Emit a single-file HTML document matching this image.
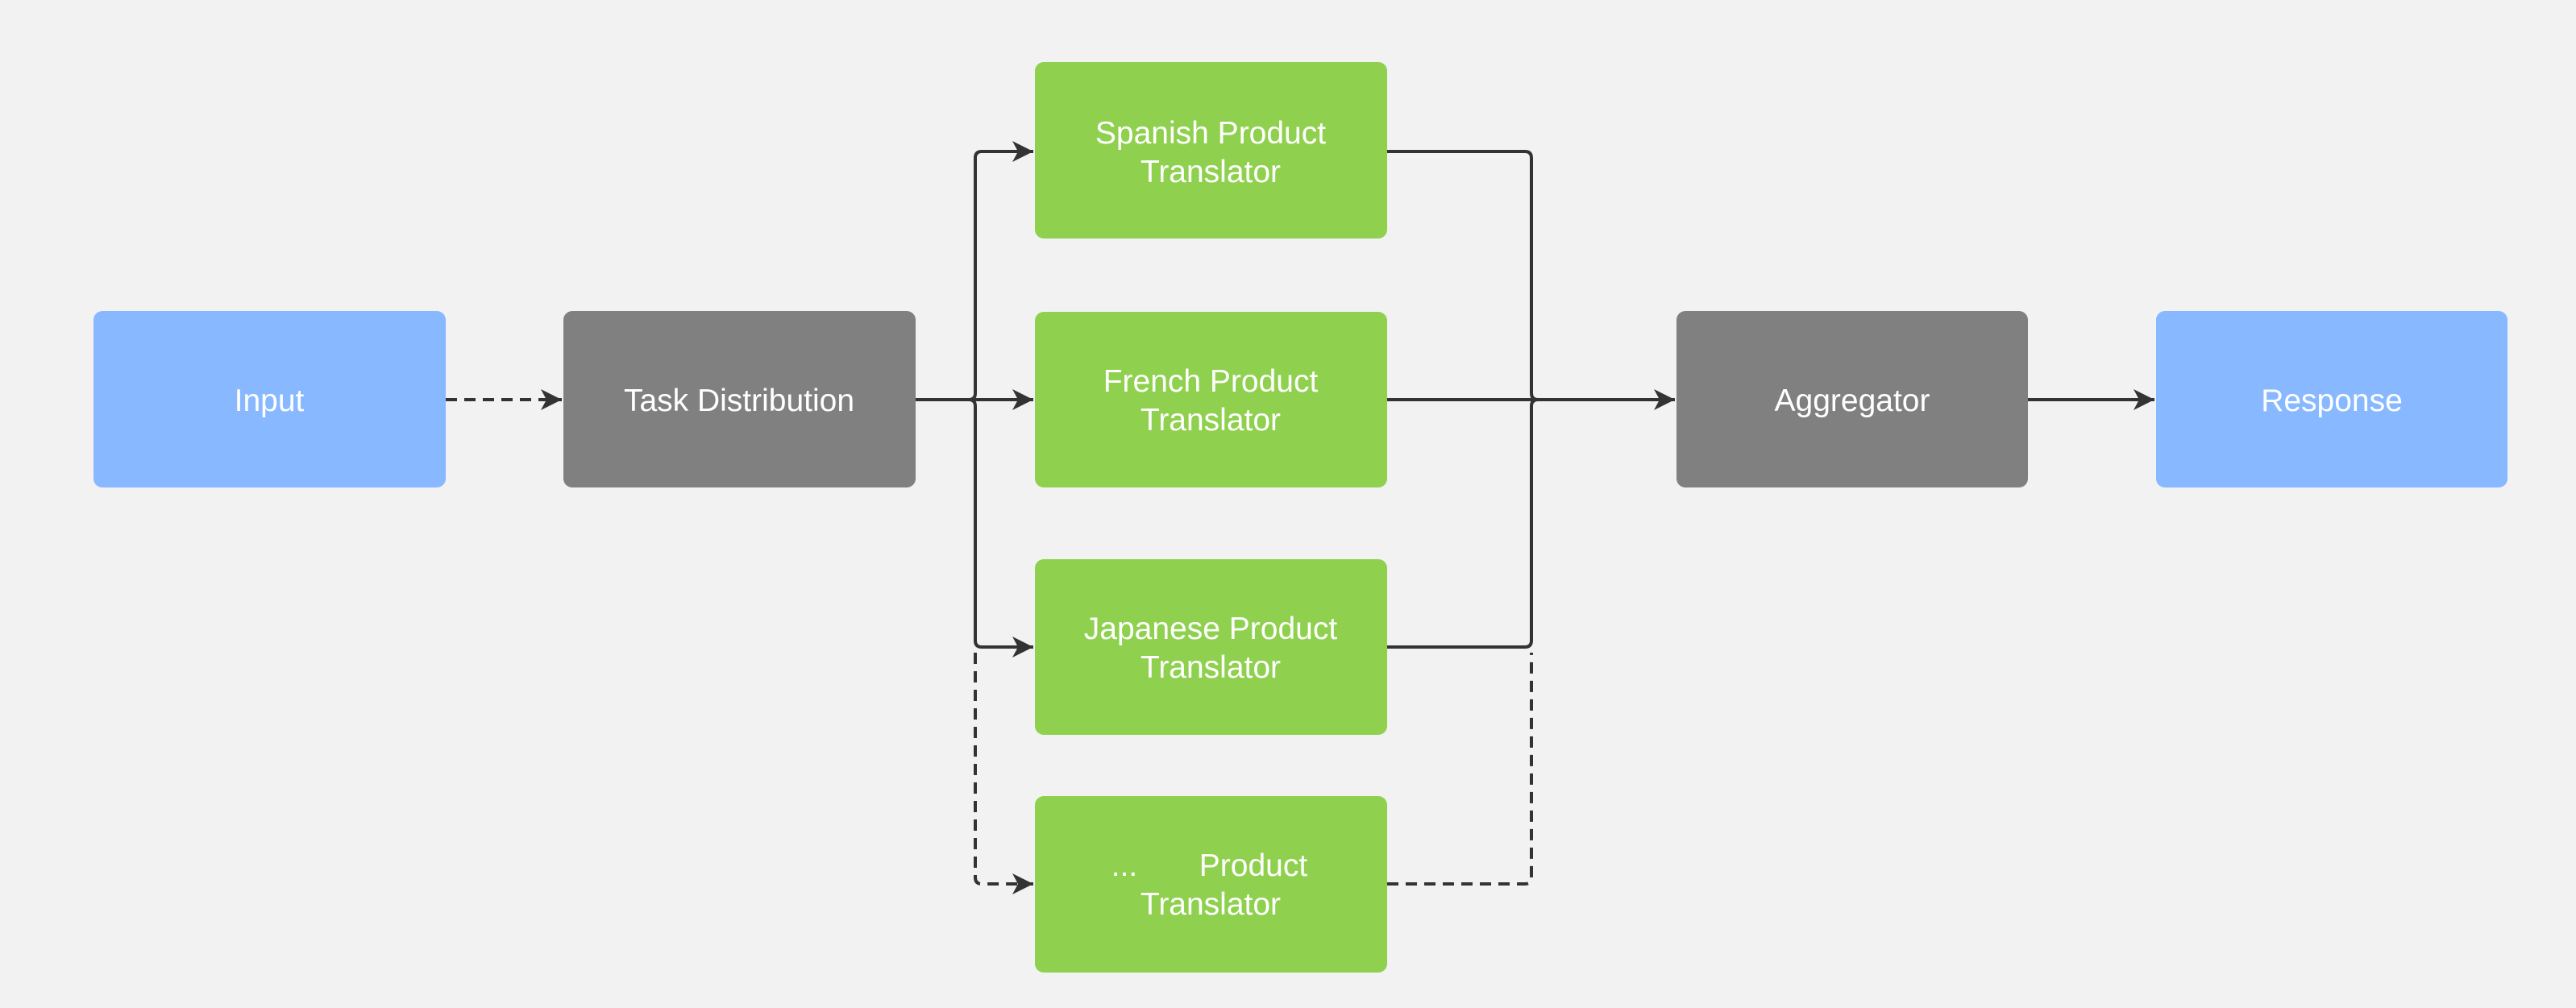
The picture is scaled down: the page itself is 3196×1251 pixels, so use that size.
<!DOCTYPE html>
<html><head><meta charset="utf-8"><style>
html,body{margin:0;padding:0;background:#f2f2f2;}
svg{display:block;}
text{font-family:"Liberation Sans",sans-serif;fill:#fff;font-size:39px;text-anchor:middle;}
</style></head><body>
<svg width="3196" height="1251" viewBox="0 0 3196 1251" xmlns="http://www.w3.org/2000/svg">
<defs>
<marker id="a" markerWidth="28" markerHeight="28" refX="26" refY="14" markerUnits="userSpaceOnUse" orient="auto">
<path d="M0,1 L26,14 L0,27 L7,14 Z" fill="#333"/>
</marker>
</defs>
<rect width="3196" height="1251" fill="#f2f2f2"/>
<g stroke="#333" stroke-width="4" fill="none">
<path d="M553,496 H697" stroke-dasharray="14,9" marker-end="url(#a)"/>
<path d="M1136,496 H1202 Q1210,496 1210,488 V196 Q1210,188 1218,188 H1282" marker-end="url(#a)"/>
<path d="M1202,496 Q1210,496 1210,504 V795 Q1210,803 1218,803 H1282" marker-end="url(#a)"/>
<path d="M1200,496 H1282" marker-end="url(#a)"/>
<path d="M1210,810 V1089 Q1210,1097 1218,1097 H1282" stroke-dasharray="14,9" marker-end="url(#a)"/>
<path d="M1721,188 H1892 Q1900,188 1900,196 V488 Q1900,496 1908,496"/>
<path d="M1721,803 H1892 Q1900,803 1900,795 V504 Q1900,496 1908,496"/>
<path d="M1721,496 H2078" marker-end="url(#a)"/>
<path d="M1721,1097 H1892 Q1900,1097 1900,1089 V810" stroke-dasharray="14,9"/>
<path d="M2516,496 H2673" marker-end="url(#a)"/>
</g>
<rect x="116" y="386" width="437" height="219" rx="11" fill="#88b8ff"/>
<rect x="699" y="386" width="437" height="219" rx="11" fill="#808080"/>
<rect x="1284" y="77" width="437" height="219" rx="11" fill="#8fd14f"/>
<rect x="1284" y="387" width="437" height="218" rx="11" fill="#8fd14f"/>
<rect x="1284" y="694" width="437" height="218" rx="11" fill="#8fd14f"/>
<rect x="1284" y="988" width="437" height="219" rx="11" fill="#8fd14f"/>
<rect x="2080" y="386" width="436" height="219" rx="11" fill="#808080"/>
<rect x="2675" y="386" width="436" height="219" rx="11" fill="#88b8ff"/>
<text x="334" y="510">Input</text>
<text x="917" y="510">Task Distribution</text>
<text x="1502" y="178">Spanish Product</text>
<text x="1502" y="226">Translator</text>
<text x="1502" y="486">French Product</text>
<text x="1502" y="534">Translator</text>
<text x="1502" y="793">Japanese Product</text>
<text x="1502" y="841">Translator</text>
<text x="1395" y="1087">...</text>
<text x="1555" y="1087">Product</text>
<text x="1502" y="1135">Translator</text>
<text x="2298" y="510">Aggregator</text>
<text x="2893" y="510">Response</text>
</svg>
</body></html>
